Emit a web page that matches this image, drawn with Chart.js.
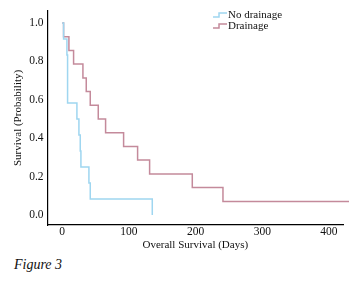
<!DOCTYPE html>
<html>
<head>
<meta charset="utf-8">
<script src="https://cdn.jsdelivr.net/npm/chart.js@4/dist/chart.umd.min.js"></script>
<style>
  html, body { margin: 0; padding: 0; background: #fff; }
  #wrap { position: relative; width: 360px; height: 284px; }
  #chart { position: absolute; left: 0; top: 0; }
  #caption { position: absolute; left: 14px; top: 257px; font-family: 'Liberation Serif', serif; font-style: italic; font-size: 14px; color: #111; }
</style>
</head>
<body>
<div id="wrap">
  <canvas id="chart" width="360" height="252"></canvas>
  <div id="caption">Figure 3</div>
</div>
<script>
// ---- data ----
const seriesNames = ['No drainage', 'Drainage'];
const noDrainageDays = [0, 2, 7, 8, 22, 25, 27, 28, 40, 42, 135];
const noDrainageSurv = [1.0, 0.917, 0.833, 0.583, 0.5, 0.417, 0.333, 0.25, 0.167, 0.083, 0.0];
const drainageDays = [0, 2, 10, 17, 31, 36, 42, 54, 65, 92, 113, 131, 195, 241, 430];
const drainageSurv = [1.0, 0.929, 0.857, 0.786, 0.714, 0.643, 0.571, 0.5, 0.429, 0.357, 0.286, 0.214, 0.143, 0.071, 0.071];
const xTicks = [0, 100, 200, 300, 400];
const yTicks = [0, 0.2, 0.4, 0.6, 0.8, 1.0];

const toPts = (xs, ys) => xs.map((x, i) => ({ x: x, y: ys[i] }));
const colors = ['#9fd6f0', '#c48a9b'];
const serif = "'Liberation Serif', 'Times New Roman', serif";

const stepLegend = {
  id: 'stepLegend',
  afterDatasetsDraw(chart) {
    const { ctx, chartArea } = chart;
    const x0 = chartArea.left + chartArea.width * 0.56;
    let y = chartArea.top + 4;
    ctx.save();
    chart.data.datasets.forEach((ds) => {
      ctx.strokeStyle = ds.borderColor;
      ctx.lineWidth = 1.5;
      ctx.beginPath();
      ctx.moveTo(x0, y + 2);
      ctx.lineTo(x0 + 6, y + 2);
      ctx.lineTo(x0 + 6, y - 2);
      ctx.lineTo(x0 + 14, y - 2);
      ctx.stroke();
      ctx.fillStyle = '#111';
      ctx.font = '11px ' + serif;
      ctx.textBaseline = 'middle';
      ctx.textAlign = 'left';
      ctx.fillText(ds.label, x0 + 15, y);
      y += 11;
    });
    ctx.restore();
  }
};

new Chart(document.getElementById('chart'), {
  type: 'line',
  data: {
    datasets: [
      { label: seriesNames[0], data: toPts(noDrainageDays, noDrainageSurv), borderColor: colors[0], backgroundColor: colors[0], borderWidth: 1.5, stepped: true, pointRadius: 0, fill: false, clip: false },
      { label: seriesNames[1], data: toPts(drainageDays, drainageSurv), borderColor: colors[1], backgroundColor: colors[1], borderWidth: 1.5, stepped: true, pointRadius: 0, fill: false, clip: false }
    ]
  },
  options: {
    responsive: false,
    animation: false,
    layout: { padding: { left: 12, right: 17, top: 10, bottom: 0 } },
    plugins: { legend: { display: false }, tooltip: { enabled: false } },
    scales: {
      x: {
        type: 'linear', min: -22, max: 421,
        afterBuildTicks: (s) => { s.ticks = xTicks.map(v => ({ value: v })); },
        grid: { display: false, drawTicks: false },
        border: { display: true, color: '#000', width: 1.2 },
        ticks: { color: '#111', font: { family: serif, size: 11.5 }, padding: 0 },
        title: { display: true, text: 'Overall Survival (Days)', color: '#111', font: { family: serif, size: 11 }, padding: { top: 0, bottom: 0 } }
      },
      y: {
        type: 'linear', min: -0.052, max: 1.063,
        afterBuildTicks: (s) => { s.ticks = yTicks.map(v => ({ value: v })); },
        grid: { display: false, drawTicks: false },
        border: { display: true, color: '#000', width: 1.2 },
        ticks: { color: '#111', font: { family: serif, size: 11.5 }, padding: 4, callback: (v) => v.toFixed(1) },
        title: { display: true, text: 'Survival (Probability)', color: '#111', font: { family: serif, size: 11 }, padding: { top: 0, bottom: 0 } }
      }
    }
  },
  plugins: [stepLegend]
});
</script>
</body>
</html>
